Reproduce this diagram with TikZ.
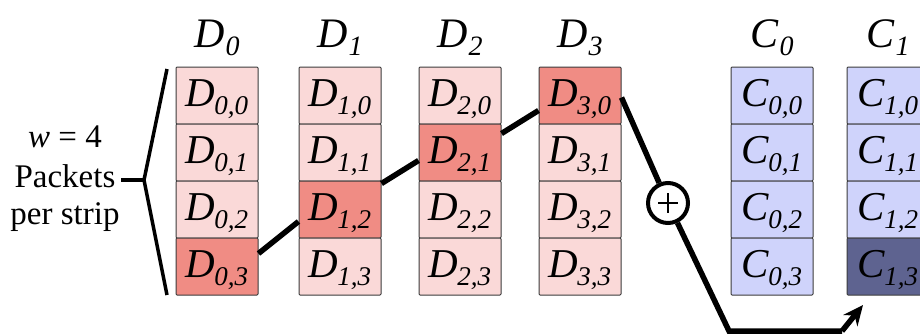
\documentclass[tikz,border=0pt]{standalone}
\usepackage{fontspec}
\setmainfont{Liberation Serif}
\newfontfamily\tms{Liberation Serif}
\usetikzlibrary{arrows.meta,calc}
\definecolor{pinkl}{RGB}{250,217,216}
\definecolor{pinkd}{RGB}{240,140,132}
\definecolor{bluel}{RGB}{207,211,251}
\definecolor{blued}{RGB}{94,99,144}
\definecolor{edge}{RGB}{60,60,60}
\newcommand{\cellfont}{\tms\fontsize{41}{41}\selectfont\itshape}
\newcommand{\subfont}{\tms\fontsize{27}{27}\selectfont\itshape}
\newcommand{\pkt}[2]{{\cellfont #1\kern-1pt\raisebox{-8pt}{\subfont #2}}}
\newcommand{\ttl}[2]{{\tms\fontsize{42}{42}\selectfont\itshape #1\kern1pt\raisebox{-8pt}{\tms\fontsize{28}{28}\selectfont\itshape #2}}}
\begin{document}
\begin{tikzpicture}[x=1pt,y=-1pt,
  cellbox/.style={draw=edge,line width=1pt,minimum width=82pt,minimum height=57pt,inner sep=0pt,text height=30pt,text depth=8pt,rounded corners=1pt},
  pl/.style={cellbox,fill=pinkl},
  pd/.style={cellbox,fill=pinkd},
  bl/.style={cellbox,fill=bluel},
  bd/.style={cellbox,fill=blued},
  ttlnode/.style={anchor=base,inner sep=0pt},
  side/.style={anchor=base,inner sep=0pt,font=\tms\fontsize{33}{33}\selectfont},
  heavy/.style={line width=5.5pt,black},
]
\useasboundingbox (0,0) rectangle (920,333);
\clip (0,0) rectangle (920,333);
\foreach \c/\x in {0/217,1/340,2/460,3/580}{
  \node[ttlnode] (td\c) at (\x,47) {\ttl{D}{\c}};
}
\foreach \c/\x in {0/772,1/888}{
  \node[ttlnode] (tc\c) at (\x,47) {\ttl{C}{\c}};
}
% D cells
\node[pl] (d00) at (217,95.5) {\pkt{D}{0,0}};
\node[pl] (d01) at (217,152.5) {\pkt{D}{0,1}};
\node[pl] (d02) at (217,209.5) {\pkt{D}{0,2}};
\node[pd] (d03) at (217,266.5) {\pkt{D}{0,3}};
\node[pl] (d10) at (340,95.5) {\pkt{D}{1,0}};
\node[pl] (d11) at (340,152.5) {\pkt{D}{1,1}};
\node[pd] (d12) at (340,209.5) {\pkt{D}{1,2}};
\node[pl] (d13) at (340,266.5) {\pkt{D}{1,3}};
\node[pl] (d20) at (460,95.5) {\pkt{D}{2,0}};
\node[pd] (d21) at (460,152.5) {\pkt{D}{2,1}};
\node[pl] (d22) at (460,209.5) {\pkt{D}{2,2}};
\node[pl] (d23) at (460,266.5) {\pkt{D}{2,3}};
\node[pd] (d30) at (580,95.5) {\pkt{D}{3,0}};
\node[pl] (d31) at (580,152.5) {\pkt{D}{3,1}};
\node[pl] (d32) at (580,209.5) {\pkt{D}{3,2}};
\node[pl] (d33) at (580,266.5) {\pkt{D}{3,3}};
% C cells
\node[bl] (c00) at (772,95.5) {\pkt{C}{0,0}};
\node[bl] (c01) at (772,152.5) {\pkt{C}{0,1}};
\node[bl] (c02) at (772,209.5) {\pkt{C}{0,2}};
\node[bl] (c03) at (772,266.5) {\pkt{C}{0,3}};
\node[bl] (c10) at (888,95.5) {\pkt{C}{1,0}};
\node[bl] (c11) at (888,152.5) {\pkt{C}{1,1}};
\node[bl] (c12) at (888,209.5) {\pkt{C}{1,2}};
\node[bd] (c13) at (888,266.5) {\pkt{C}{1,3}};
% left label
\node[side] (t1) at (65,147) {\textit{w} = 4};
\node[side] (t2) at (65,187) {Packets};
\node[side] (t3) at (65,224) {per strip};
\coordinate (btop) at (167,69);
\coordinate (bmid) at (144,180);
\coordinate (bbot) at (167,295);
\coordinate (bstub) at (121,180);
\draw[line width=3.5pt,line join=miter] (btop) -- (bmid) -- (bbot);
\draw[line width=3.5pt] (bstub) -- (bmid);
% zigzag
\draw[heavy] ($(d03.east)+(0,-13)$) -- ($(d12.west)+(0,12)$);
\draw[heavy] ($(d12.east)+(0,-26)$) -- ($(d21.west)+(0,8)$);
\draw[heavy] ($(d21.east)+(0,-19)$) -- ($(d30.west)+(0,15)$);
% xor
\node[circle,draw,line width=4pt,minimum size=40pt,inner sep=0pt] (xr) at (668,203) {};
\draw[line width=2.5pt] ($(xr.center)+(-10,0)$) -- ($(xr.center)+(10,0)$);
\draw[line width=2.5pt] ($(xr.center)+(0,-10)$) -- ($(xr.center)+(0,10)$);
\coordinate (xin) at ($(d30.east)+(0,2)$);
\draw[heavy] (xin) -- (xr);
\coordinate (k1) at (729,331);
\coordinate (k2) at (842,331);
\coordinate (k3) at (863,305);
\draw[heavy,line join=miter] (xr) -- (k1) -- (k2);
\draw[heavy,-{Stealth[length=20pt,width=18pt]}] (k2) -- (k3);
\end{tikzpicture}
\end{document}
